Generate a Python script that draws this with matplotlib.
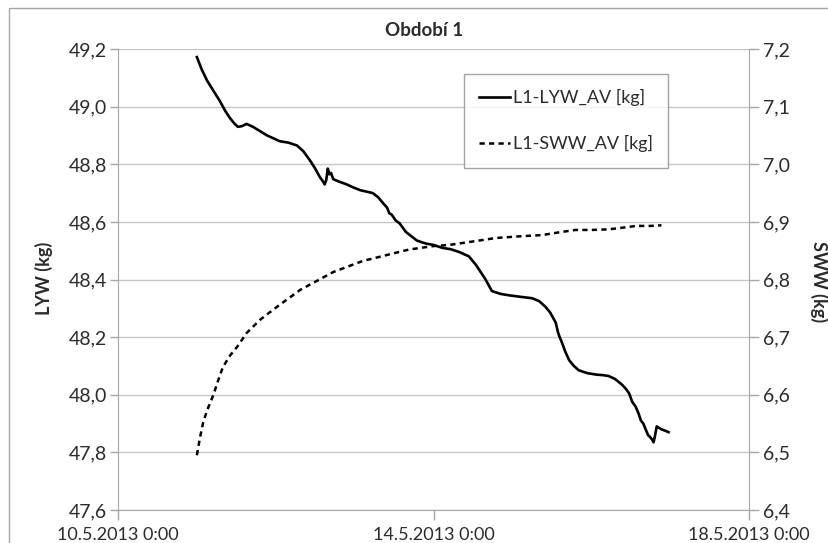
import matplotlib
matplotlib.use("Agg")
import matplotlib.pyplot as plt
from matplotlib.lines import Line2D
from matplotlib.patches import Rectangle
import pandas as pd

plt.rcParams['font.family'] = ['Lato', 'DejaVu Sans']

title = "Období 1"
start = "2013-05-10 00:00"
x_ticks = ["2013-05-10 00:00", "2013-05-14 00:00", "2013-05-18 00:00"]
x_tick_labels = ["10.5.2013 0:00", "14.5.2013 0:00", "18.5.2013 0:00"]
left_ticks = [47.6, 47.8, 48.0, 48.2, 48.4, 48.6, 48.8, 49.0, 49.2]
right_ticks = [6.4, 6.5, 6.6, 6.7, 6.8, 6.9, 7.0, 7.1, 7.2]

# LYW (left axis) — day offsets from 10.5.2013 0:00 and values
lyw_day = [1.00, 1.06, 1.13, 1.21, 1.29, 1.36, 1.42, 1.48, 1.52, 1.57, 1.63, 1.71,
           1.80, 1.89, 1.97, 2.05, 2.16, 2.27, 2.35, 2.43, 2.50, 2.56, 2.60, 2.62,
           2.64, 2.66, 2.68, 2.70, 2.73, 2.80, 2.90, 2.98, 3.07, 3.15, 3.23, 3.30,
           3.36, 3.41, 3.44, 3.47, 3.52, 3.57, 3.65, 3.72, 3.79, 3.90, 4.00, 4.11,
           4.22, 4.33, 4.45, 4.54, 4.60, 4.66, 4.70, 4.74, 4.85, 4.96, 5.10, 5.25,
           5.34, 5.42, 5.48, 5.52, 5.55, 5.58, 5.60, 5.63, 5.67, 5.72, 5.78, 5.84,
           5.95, 6.06, 6.15, 6.22, 6.30, 6.39, 6.44, 6.48, 6.52, 6.56, 6.60, 6.63,
           6.66, 6.69, 6.72, 6.74, 6.77, 6.79, 6.81, 6.83, 6.86, 6.89, 6.94, 6.98]
lyw_val = [49.172, 49.13, 49.09, 49.055, 49.02, 48.985, 48.96, 48.94, 48.93, 48.932, 48.94, 48.93,
           48.915, 48.90, 48.89, 48.88, 48.875, 48.865, 48.845, 48.815, 48.785, 48.755, 48.74, 48.73,
           48.745, 48.785, 48.765, 48.77, 48.748, 48.74, 48.73, 48.72, 48.71, 48.705, 48.70, 48.685,
           48.665, 48.65, 48.63, 48.625, 48.605, 48.595, 48.565, 48.55, 48.535, 48.525, 48.52, 48.51,
           48.505, 48.495, 48.48, 48.45, 48.425, 48.40, 48.38, 48.36, 48.35, 48.345, 48.34, 48.335,
           48.325, 48.305, 48.285, 48.265, 48.25, 48.215, 48.20, 48.18, 48.15, 48.12, 48.10, 48.085,
           48.075, 48.07, 48.068, 48.065, 48.055, 48.035, 48.02, 48.005, 47.975, 47.96, 47.935, 47.91,
           47.90, 47.88, 47.86, 47.855, 47.845, 47.835, 47.86, 47.89, 47.885, 47.88, 47.875, 47.87]

# SWW (right axis)
sww_day = [1.00, 1.04, 1.08, 1.13, 1.21, 1.27, 1.33, 1.42, 1.51, 1.63, 1.80, 2.01,
           2.31, 2.73, 3.10, 3.57, 3.69, 4.00, 4.20, 4.50, 4.79, 5.10, 5.37, 5.60,
           5.80, 6.00, 6.22, 6.40, 6.57, 6.75, 6.89]
sww_val = [6.495, 6.526, 6.552, 6.573, 6.60, 6.625, 6.648, 6.668, 6.683, 6.707, 6.73, 6.752,
           6.782, 6.813, 6.832, 6.848, 6.852, 6.858, 6.860, 6.866, 6.872, 6.875, 6.877, 6.882,
           6.886, 6.886, 6.887, 6.890, 6.893, 6.893, 6.894]

lyw_label = "L1-LYW_AV [kg]"
sww_label = "L1-SWW_AV [kg]"

t0 = pd.Timestamp(start)
lyw_t = t0 + pd.to_timedelta(lyw_day, unit="D")
sww_t = t0 + pd.to_timedelta(sww_day, unit="D")

W, H = 829, 543
fig = plt.figure(figsize=(W / 100, H / 100), dpi=100)
fig.patch.set_facecolor("white")
fig.add_artist(Rectangle((9 / W, -0.1), 1.2, 1.1 - 8 / H, transform=fig.transFigure,
                         fill=False, edgecolor="#a6a6a6", linewidth=1.0))

ax = fig.add_axes([118 / W, 1 - 510 / H, 631 / W, 461 / H])
ax2 = ax.twinx()

grid_c = "#c6c6c6"
spine_c = "#a6a6a6"
txt_c = "#2b2b2b"
dash = (0, (2.1, 1.7))

ax.plot(lyw_t, lyw_val, color="black", linewidth=1.9, solid_joinstyle="round")
ax2.plot(sww_t, sww_val, color="black", linewidth=1.8, linestyle=dash)

ax.set_ylim(47.6, 49.2)
ax2.set_ylim(6.4, 7.2)
ax.set_yticks(left_ticks)
ax.set_yticklabels([f"{v:.1f}".replace(".", ",") for v in left_ticks])
ax2.set_yticks(right_ticks)
ax2.set_yticklabels([f"{v:.1f}".replace(".", ",") for v in right_ticks])

xt = [pd.Timestamp(s) for s in x_ticks]
ax.set_xlim(xt[0], xt[-1])
ax.set_xticks(xt)
ax.set_xticklabels(x_tick_labels)

ax.grid(axis="y", color=grid_c, linewidth=1.0)
ax.set_axisbelow(True)
for a in (ax, ax2):
    for s in a.spines.values():
        s.set_color(spine_c)
    a.spines["top"].set_visible(False)
ax.spines["right"].set_visible(False)
ax2.spines["left"].set_visible(False)
ax2.spines["bottom"].set_visible(False)

ax.tick_params(axis="y", length=6, width=1, color=spine_c, labelsize=14, labelcolor=txt_c, pad=2)
ax2.tick_params(axis="y", length=7, width=1, color=spine_c, labelsize=14, labelcolor=txt_c, pad=3)
ax.tick_params(axis="x", length=7, width=1, color=spine_c, labelsize=13, labelcolor=txt_c, pad=5)

fig.text(424 / W, 1 - 31 / H, title, ha="center", va="center", fontsize=13.5, fontweight="bold", color=txt_c)
fig.text(44 / W, 1 - 278 / H, "LYW (kg)", ha="center", va="center", rotation=90,
         fontsize=13, fontweight="bold", color=txt_c)
fig.text(819 / W, 1 - 282 / H, "SWW (kg)", ha="center", va="center", rotation=270,
         fontsize=13, fontweight="bold", color=txt_c)

handles = [Line2D([], [], color="black", linewidth=1.9),
           Line2D([], [], color="black", linewidth=1.8, linestyle=dash)]
leg = ax.legend(handles, [lyw_label, sww_label], loc="upper left",
                bbox_to_anchor=((464 - 118) / 631, (510 - 74) / 461),
                frameon=True, fancybox=False, edgecolor="#8c8c8c", fontsize=13,
                handlelength=1.7, handletextpad=0.15, labelspacing=1.6,
                borderpad=0.85, borderaxespad=0)
leg.get_frame().set_linewidth(1.0)
for t in leg.get_texts():
    t.set_color(txt_c)

fig.savefig("out.png", dpi=100, facecolor="white")
